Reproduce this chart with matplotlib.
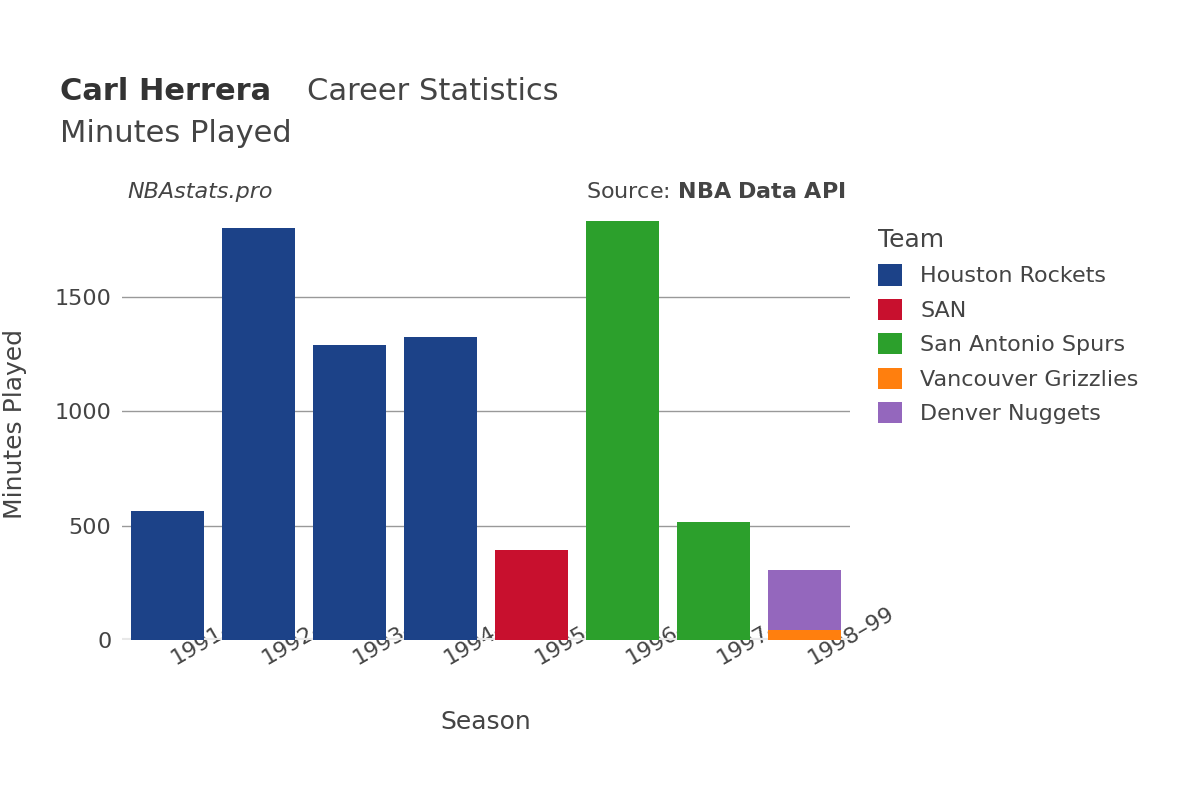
import matplotlib
matplotlib.use("Agg")
import matplotlib.pyplot as plt
from matplotlib.patches import Patch

seasons = ["1991–92","1992–93","1993–94","1994–95","1995–96","1996–97","1997–98","1998–99"]
teams = ["Houston Rockets","SAN","San Antonio Spurs","Vancouver Grizzlies","Denver Nuggets"]
colors = ["#1c4288","#c8102e","#2ca02c","#ff7f0e","#9467bd"]
rockets = [564, 1797, 1290, 1325, 0, 0, 0, 0]
san = [0, 0, 0, 0, 393, 0, 0, 0]
spurs = [0, 0, 0, 0, 0, 1828, 516, 0]
vancouver = [0, 0, 0, 0, 0, 0, 0, 44]
denver = [0, 0, 0, 0, 0, 0, 0, 262]
series = [rockets, san, spurs, vancouver, denver]

fig = plt.figure(figsize=(12, 8), dpi=100)
ax = fig.add_axes([0.102, 0.2, 0.606, 0.541])
x = range(len(seasons))
bottom = [0]*len(seasons)
for vals, c in zip(series, colors):
    ax.bar(x, vals, bottom=bottom, color=c, width=0.8, zorder=3)
    bottom = [b+v for b, v in zip(bottom, vals)]
ax.set_xlim(-0.5, 7.5)
ax.set_ylim(0, 1890)
ax.set_yticks([0, 500, 1000, 1500])
ax.set_yticklabels(["0", "500", "1000", "1500"])
ax.grid(axis="y", color="#999999", linewidth=1, zorder=0)
for s in ax.spines.values():
    s.set_visible(False)
ax.axhline(0, color="#e8e8e8", linewidth=3, zorder=2)
ax.tick_params(length=0, labelsize=16, colors="#444444", pad=8)
ax.set_xticks(list(x))
ax.set_xticklabels(seasons, rotation=30, ha="left", rotation_mode="anchor")
ax.set_xlabel("Season", fontsize=18, color="#444444", labelpad=30)
ax.set_ylabel("Minutes Played", fontsize=18, color="#444444", labelpad=20)

fig.text(0.05, 0.875, "Carl Herrera", fontsize=22, fontweight="bold", color="#333333")
fig.text(0.256, 0.875, "Career Statistics", fontsize=22, color="#444444")
fig.text(0.05, 0.822, "Minutes Played", fontsize=22, color="#444444")
fig.text(0.106, 0.752, "NBAstats.pro", fontsize=16, style="italic", color="#444444")
fig.text(0.705, 0.752, "Source: $\\bf{NBA\\ Data\\ API}$", fontsize=16, color="#444444", ha="right")

handles = [Patch(facecolor=c, label=t) for t, c in zip(teams, colors)]
leg = fig.legend(handles=handles, loc="upper left", bbox_to_anchor=(0.715, 0.74),
                 frameon=False, fontsize=16, title="Team", title_fontsize=18,
                 handlelength=1.1, handleheight=1.1, labelspacing=0.55, alignment="left")
for t in leg.get_texts():
    t.set_color("#444444")
leg.get_title().set_color("#444444")
fig.savefig("out.png")
